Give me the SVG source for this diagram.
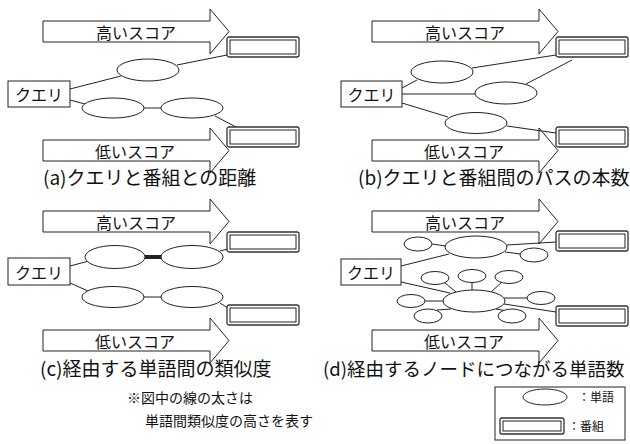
<svg xmlns="http://www.w3.org/2000/svg" xmlns:xlink="http://www.w3.org/1999/xlink" width="630" height="444" viewBox="0 0 630 444">
<style>
text{font-family:"Noto Sans CJK JP","Noto Sans",sans-serif;fill:#111}
.arr{fill:#fff;stroke:#222;stroke-width:1}
.lab{font-size:16px;text-anchor:middle;dominant-baseline:central}
.cap{font-size:19px}
.q{fill:#fff;stroke:#222;stroke-width:1}
.e{fill:#fff;stroke:#222;stroke-width:1}
.bo{fill:#fff;stroke:#333;stroke-width:1.3}
.bi{fill:#fff;stroke:#222;stroke-width:1}
.c line{stroke:#222;stroke-width:1}
.note{font-size:14px}
.leg{font-size:12px}
</style>
<defs>
<polygon id="arrow" class="arr" points="0,12 167,12 167,0 186,22.5 167,45 167,33 0,33"/>
<g id="prog"><rect class="bo" x="0" y="0" width="72" height="20" rx="2"/><rect class="bi" x="3" y="3" width="66" height="14"/></g>
</defs>
<rect width="630" height="444" fill="#fff"/>

<!-- Panel (a) -->
<g id="a-high"><use xlink:href="#arrow" x="43" y="9"/><text class="lab" x="136" y="31.5">高いスコア</text></g>
<g id="a-low"><use xlink:href="#arrow" x="43" y="128"/><text class="lab" x="135" y="150.5">低いスコア</text></g>
<g class="c" id="a-conn">
<line x1="70" y1="89" x2="121" y2="76"/>
<line x1="177" y1="65" x2="227" y2="55"/>
<line x1="70" y1="100" x2="85" y2="104"/>
<line x1="144" y1="108" x2="161" y2="108"/>
<line x1="215" y1="116" x2="236" y2="127"/>
</g>
<g id="a-query"><rect class="q" x="8" y="81" width="62" height="26"/><text class="lab" x="39" y="94">クエリ</text></g>
<g id="a-w1"><ellipse class="e" cx="148" cy="70" rx="31" ry="11"/></g>
<g id="a-w2"><ellipse class="e" cx="113" cy="108" rx="31" ry="10"/></g>
<g id="a-w3"><ellipse class="e" cx="192" cy="108" rx="31" ry="10"/></g>
<g id="a-p1"><use xlink:href="#prog" x="227" y="37"/></g>
<g id="a-p2"><use xlink:href="#prog" x="227" y="127"/></g>
<text class="cap" x="43" y="185">(a)クエリと番組との距離</text>

<!-- Panel (b) -->
<g id="b-high"><use xlink:href="#arrow" x="372" y="9"/><text class="lab" x="465" y="31.5">高いスコア</text></g>
<g id="b-low"><use xlink:href="#arrow" x="372" y="128"/><text class="lab" x="464" y="150.5">低いスコア</text></g>
<g class="c" id="b-conn">
<line x1="402" y1="88" x2="417" y2="80"/>
<line x1="472" y1="68" x2="556" y2="55"/>
<line x1="402" y1="94" x2="475" y2="94"/>
<line x1="526" y1="84" x2="572" y2="60"/>
<line x1="402" y1="103" x2="448" y2="117"/>
<line x1="507" y1="126" x2="556" y2="133"/>
</g>
<g id="b-query"><rect class="q" x="341" y="81" width="61" height="26"/><text class="lab" x="371.5" y="94">クエリ</text></g>
<g id="b-w1"><ellipse class="e" cx="442" cy="72" rx="31" ry="11"/></g>
<g id="b-w2"><ellipse class="e" cx="506" cy="93" rx="31" ry="11"/></g>
<g id="b-w3"><ellipse class="e" cx="476" cy="123" rx="31" ry="10.5"/></g>
<g id="b-p1"><use xlink:href="#prog" x="556" y="37"/></g>
<g id="b-p2"><use xlink:href="#prog" x="556" y="127"/></g>
<text class="cap" x="358" y="185">(b)クエリと番組間のパスの本数</text>

<!-- Panel (c) -->
<g id="c-high"><use xlink:href="#arrow" x="43" y="199"/><text class="lab" x="136" y="221.5">高いスコア</text></g>
<g id="c-low"><use xlink:href="#arrow" x="43" y="318"/><text class="lab" x="135" y="340.5">低いスコア</text></g>
<g class="c" id="c-conn">
<line x1="70" y1="266" x2="89" y2="261"/>
<line x1="145" y1="257" x2="162" y2="257" style="stroke-width:4"/>
<line x1="220" y1="251" x2="228" y2="249"/>
<line x1="70" y1="283" x2="88" y2="291"/>
<line x1="144" y1="297" x2="161" y2="297"/>
<line x1="220" y1="303" x2="228" y2="308"/>
</g>
<g id="c-query"><rect class="q" x="8" y="258" width="62" height="27"/><text class="lab" x="39" y="271.5">クエリ</text></g>
<g id="c-w1"><ellipse class="e" cx="115" cy="257" rx="30" ry="11.5"/></g>
<g id="c-w2"><ellipse class="e" cx="192" cy="257" rx="31" ry="11.5"/></g>
<g id="c-w3"><ellipse class="e" cx="113" cy="297" rx="31" ry="10.5"/></g>
<g id="c-w4"><ellipse class="e" cx="192" cy="297" rx="31" ry="10.5"/></g>
<g id="c-p1"><use xlink:href="#prog" x="227" y="232"/></g>
<g id="c-p2"><use xlink:href="#prog" x="227" y="305"/></g>
<text class="cap" x="40" y="376">(c)経由する単語間の類似度</text>

<!-- Panel (d) -->
<g id="d-high"><use xlink:href="#arrow" x="372" y="199"/><text class="lab" x="465" y="221.5">高いスコア</text></g>
<g id="d-low"><use xlink:href="#arrow" x="372" y="318"/><text class="lab" x="464" y="340.5">低いスコア</text></g>
<g class="c" id="d-conn">
<line x1="401" y1="266" x2="449" y2="254"/>
<line x1="432" y1="244" x2="446" y2="246"/>
<line x1="507" y1="245" x2="556" y2="242"/>
<line x1="505" y1="252" x2="521" y2="254"/>
<line x1="401" y1="282" x2="450" y2="293"/>
<line x1="445" y1="283" x2="456" y2="292"/>
<line x1="472" y1="283" x2="472" y2="290"/>
<line x1="502" y1="282" x2="491" y2="292"/>
<line x1="425" y1="301" x2="443" y2="301"/>
<line x1="504" y1="298" x2="527" y2="298"/>
<line x1="437" y1="310" x2="451" y2="309"/>
<line x1="504" y1="304" x2="556" y2="312"/>
<line x1="507" y1="311" x2="496" y2="309"/>
</g>
<g id="d-query"><rect class="q" x="341" y="259" width="60" height="26"/><text class="lab" x="371" y="272">クエリ</text></g>
<g id="d-hub1"><ellipse class="e" cx="476" cy="247" rx="31" ry="11"/></g>
<g id="d-s1"><ellipse class="e" cx="418" cy="244" rx="14" ry="7"/></g>
<g id="d-s2"><ellipse class="e" cx="534" cy="255" rx="14" ry="7"/></g>
<g id="d-hub2"><ellipse class="e" cx="474" cy="301" rx="31" ry="11"/></g>
<g id="d-s3"><ellipse class="e" cx="435" cy="278" rx="14" ry="6.5"/></g>
<g id="d-s4"><ellipse class="e" cx="472" cy="276" rx="14" ry="6.5"/></g>
<g id="d-s5"><ellipse class="e" cx="509" cy="277" rx="14" ry="6.5"/></g>
<g id="d-s6"><ellipse class="e" cx="411" cy="301" rx="14" ry="6.5"/></g>
<g id="d-s7"><ellipse class="e" cx="541" cy="298" rx="14" ry="6.5"/></g>
<g id="d-s8"><ellipse class="e" cx="428" cy="316" rx="14" ry="7"/></g>
<g id="d-s9"><ellipse class="e" cx="512" cy="316" rx="14" ry="7"/></g>
<g id="d-p1"><use xlink:href="#prog" x="556" y="231"/></g>
<g id="d-p2"><use xlink:href="#prog" x="556" y="306"/></g>
<text class="cap" x="323" y="376" style="font-size:18.5px">(d)経由するノードにつながる単語数</text>

<!-- Note -->
<text class="note" x="127" y="403">※図中の線の太さは</text>
<text class="note" x="145" y="426">単語間類似度の高さを表す</text>

<!-- Legend -->
<g id="legend">
<rect x="495" y="387" width="130" height="53" fill="#fff" stroke="#222" stroke-width="1"/>
<ellipse class="e" cx="545" cy="397" rx="22" ry="8"/>
<text class="leg" x="578" y="402">：単語</text>
<rect class="bo" x="500" y="418" width="64" height="16" rx="2"/>
<rect class="bi" x="503" y="421" width="58" height="10"/>
<text class="leg" x="568" y="431">：番組</text>
</g>
</svg>
